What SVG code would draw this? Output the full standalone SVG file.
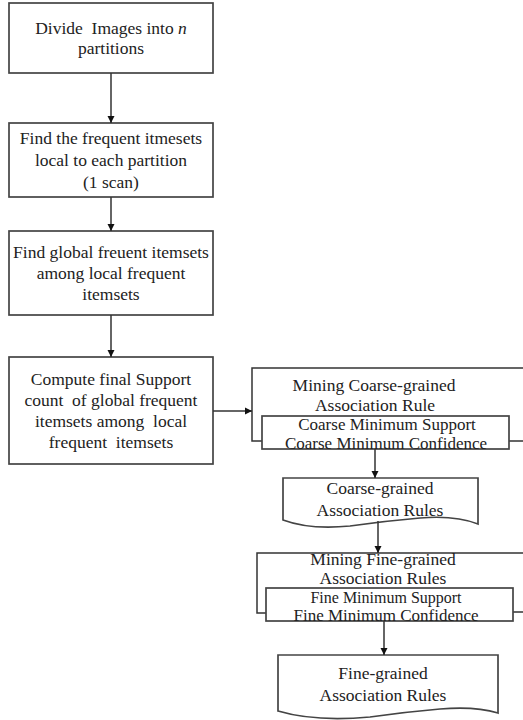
<svg xmlns="http://www.w3.org/2000/svg" width="523" height="720" viewBox="0 0 523 720">
<style>
.b{fill:#fff;stroke:#444;stroke-width:1.7}
.l{fill:none;stroke:#333;stroke-width:1.5}
text{font-family:"Liberation Serif","Times New Roman",serif;font-size:17.5px;fill:#222;text-anchor:middle;white-space:pre}
.s{font-size:17px}
.t{font-size:16px}
</style>
<defs>
<marker id="a" viewBox="0 0 10 10" refX="10" refY="5" markerWidth="7" markerHeight="8" markerUnits="userSpaceOnUse" orient="auto"><path d="M0,0L10,5L0,10z" fill="#111"/></marker>
</defs>
<rect width="523" height="720" fill="#fff"/>
<g id="n1"><rect class="b" x="9" y="3" width="204" height="70"/><text x="111" y="34" xml:space="preserve">Divide  Images into <tspan font-style="italic">n</tspan></text><text x="111" y="54">partitions</text></g>
<g id="n2"><rect class="b" x="9" y="123" width="204" height="74"/><text x="111" y="144">Find the frequent itmesets</text><text x="111" y="166">local to each partition</text><text x="111" y="188">(1 scan)</text></g>
<g id="n3"><rect class="b" x="9" y="231" width="204" height="84"/><text x="111" y="258">Find global freuent itemsets</text><text x="111" y="279">among local frequent</text><text x="111" y="300">itemsets</text></g>
<g id="n4"><rect class="b" x="9" y="357" width="204" height="107"/><text x="111" y="385">Compute final Support</text><text x="111" y="406" xml:space="preserve">count  of global frequent</text><text x="111" y="427" xml:space="preserve">itemsets among  local</text><text x="111" y="448" xml:space="preserve">frequent  itemsets</text></g>
<g id="n5"><path class="l" d="M523,368H252V441H262M509,441H523"/><text x="374" y="391">Mining Coarse-grained</text><text x="375" y="411">Association Rule</text><rect class="b" x="262" y="416" width="247" height="33"/><text class="s" x="387" y="430">Coarse Minimum Support</text><text class="s" x="386" y="449">Coarse Minimum Confidence</text></g>
<g id="n6"><path class="b" d="M283,478H478V524Q455,515 420,518T350,526Q310,530 283,520Z"/><text x="380" y="494">Coarse-grained</text><text x="380" y="516">Association Rules</text></g>
<g id="n7"><path class="l" d="M523,553H257V613H266M513,612H523"/><text x="383" y="565">Mining Fine-grained</text><text x="383" y="584">Association Rules</text><rect class="b" x="266" y="588" width="247" height="33"/><text class="t" x="386" y="603">Fine Minimum Support</text><text class="s" x="386" y="621">Fine Minimum Confidence</text></g>
<g id="n8"><path class="b" d="M278,655H498V713Q475,706 440,709T370,717Q315,722 278,711Z"/><text x="383" y="679">Fine-grained</text><text x="383" y="701">Association Rules</text></g>
<g id="edges">
<path class="l" d="M111,73V123" marker-end="url(#a)"/>
<path class="l" d="M111,197V231" marker-end="url(#a)"/>
<path class="l" d="M111,315V357" marker-end="url(#a)"/>
<path class="l" d="M213,411H252" marker-end="url(#a)"/>
<path class="l" d="M375,449V478" marker-end="url(#a)"/>
<path class="l" d="M378,521V553" marker-end="url(#a)"/>
<path class="l" d="M384,621V655" marker-end="url(#a)"/>
</g>
</svg>
